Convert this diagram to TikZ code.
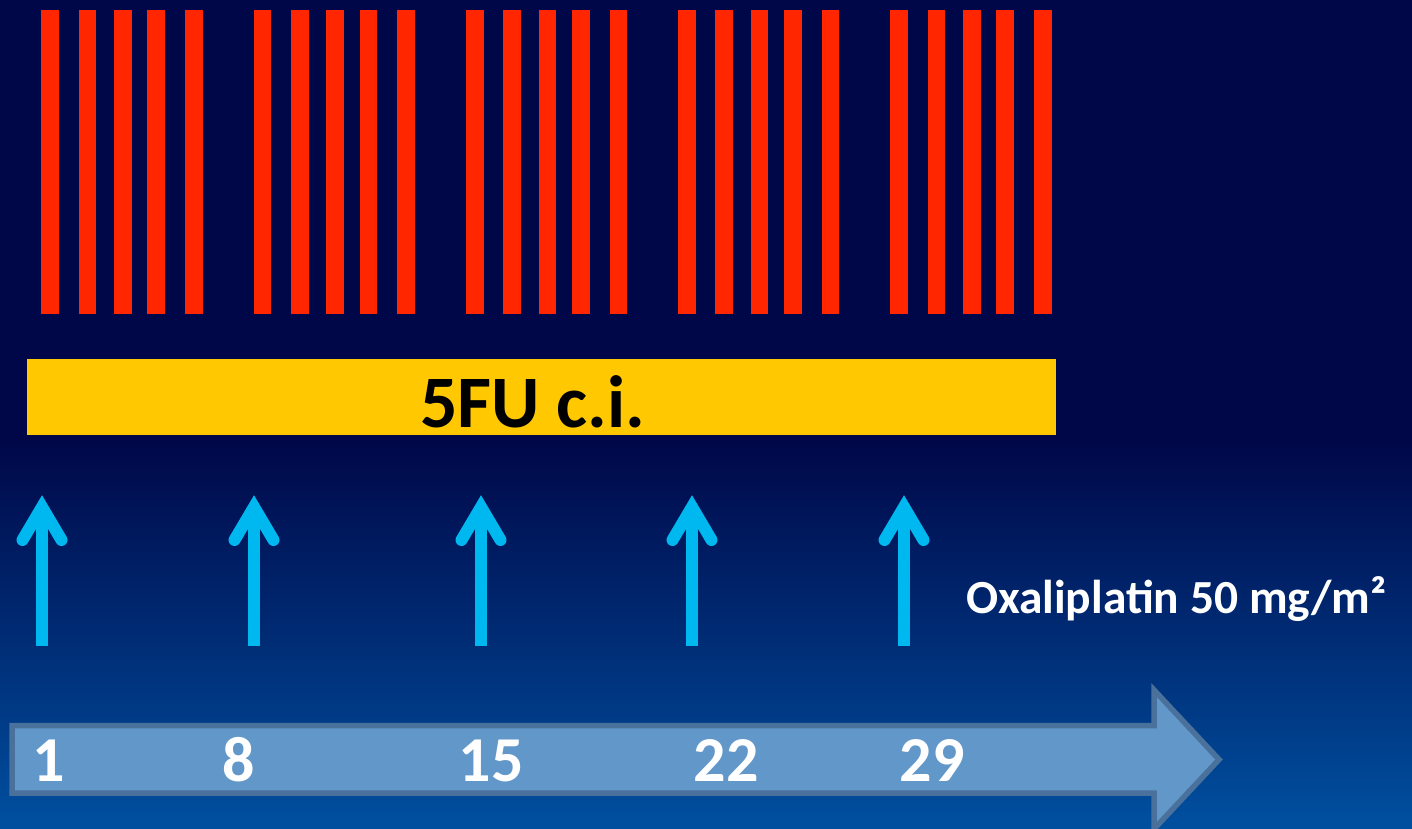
\documentclass[tikz,border=0pt]{standalone}
\usepackage{fontspec}
\setmainfont{Carlito}
\definecolor{bgnavy}{RGB}{0,7,72}
\definecolor{bgblue}{RGB}{0,80,160}
\definecolor{barred}{RGB}{255,38,0}
\definecolor{fuyellow}{RGB}{255,200,0}
\definecolor{dosecyan}{RGB}{0,184,240}
\definecolor{dayfill}{RGB}{98,151,201}
\definecolor{dayedge}{RGB}{74,113,156}
\begin{document}
\begin{tikzpicture}[x=1pt,y=-1pt,
  redbar/.style={fill=barred},
  dosearrow/.style={draw=dosecyan, line width=12pt, line cap=round, line join=miter},
  doseshaft/.style={draw=dosecyan, line width=12pt, line cap=butt},
  daylabel/.style={text=white, font=\bfseries\fontsize{64}{70}\selectfont, anchor=base, inner sep=0pt},
  dayarrow/.style={fill=dayfill, draw=dayedge, line width=5.5pt, line join=miter}]
\clip (0,0) rectangle (1412,829);
% background: navy fading into blue towards the bottom
\fill[bgnavy] (0,0) rectangle (1412,829);
\shade[top color=bgnavy, bottom color=bgblue] (0,440) rectangle (1412,830);

% weekly blocks of daily bars
\foreach \g in {0,...,4}
  \foreach \o in {0,37.4,72.7,106,143.7}
    \fill[redbar] ({41.3+212.25*\g+\o},10) rectangle ++(17.7,304);

% continuous infusion bar
\node[fill=fuyellow, minimum width=1029pt, minimum height=76pt, anchor=north west, inner sep=0pt] (fu) at (27,359) {};
\node[anchor=base, inner sep=0pt, font=\bfseries\fontsize{74}{80}\selectfont] (fulabel) at (533,427) {5FU c.i.};

% oxaliplatin doses
\foreach \x [count=\i] in {42,254,481,692,904} {
  \coordinate (d\i b) at (\x,646);
  \coordinate (d\i t) at (\x,507);
  \coordinate (d\i l) at (\x-19.5,540);
  \coordinate (d\i r) at (\x+19.5,540);
  \draw[doseshaft] (d\i b) -- (d\i t);
  \draw[dosearrow] (d\i l) -- (d\i t) -- (d\i r);
}
\node[anchor=base west, inner sep=0pt, text=white, font=\bfseries\fontsize{47.5}{52}\selectfont] (oxa) at (966,613) {Oxaliplatin 50 mg/m²};

% day axis
\coordinate (axA) at (12,725.5);
\coordinate (axB) at (1154,725.5);
\coordinate (axC) at (1154,690);
\coordinate (axD) at (1219,759.5);
\coordinate (axE) at (1154,829);
\coordinate (axF) at (1154,793);
\coordinate (axG) at (12,793);
\draw[dayarrow] (axA) -- (axB) -- (axC) -- (axD) -- (axE) -- (axF) -- (axG) -- cycle;
\node[daylabel] (day1) at (48.5,781) {1};
\node[daylabel] (day8) at (239,781) {8};
\node[daylabel] (day15) at (491,781) {15};
\node[daylabel] (day22) at (726,781) {22};
\node[daylabel] (day29) at (932,781) {29};
\end{tikzpicture}
\end{document}
